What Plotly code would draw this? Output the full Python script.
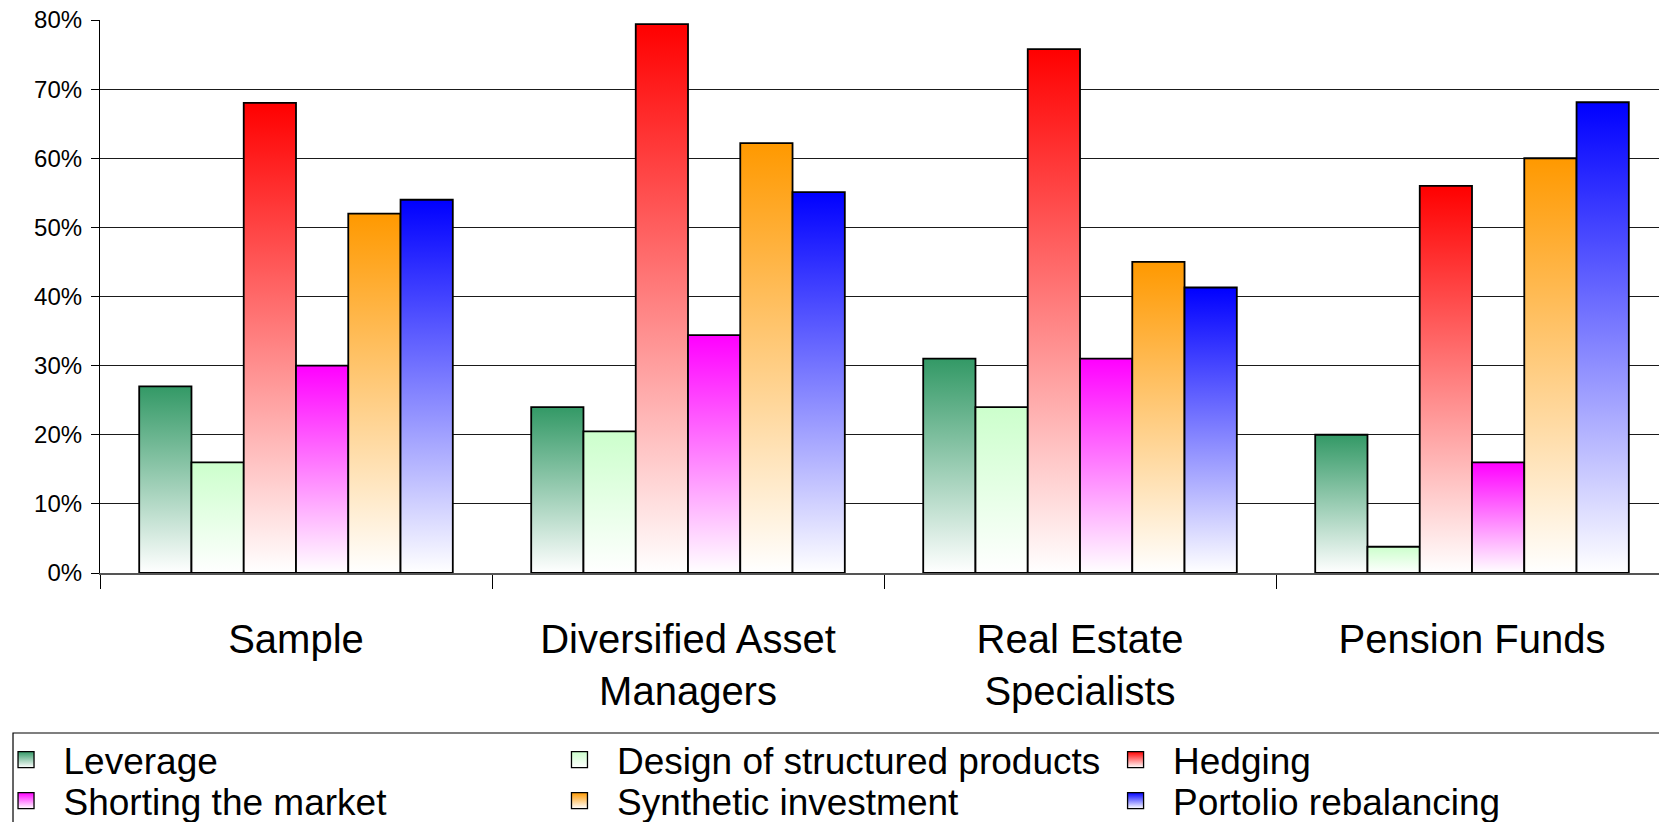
import plotly.graph_objects as go

# Survey: share of respondents using derivatives for each purpose (%)
categories = ["Sample", "Diversified Asset<br>Managers", "Real Estate<br>Specialists", "Pension Funds"]
series_names = ["Leverage", "Design of structured products", "Hedging",
                "Shorting the market", "Synthetic investment", "Portolio rebalancing"]
leverage = [27, 24, 31, 20]
structured = [16, 20.5, 24, 3.8]
hedging = [68, 79.4, 75.8, 56]
shorting = [30, 34.4, 31, 16]
synthetic = [52, 62.2, 45, 60]
rebalancing = [54, 55.1, 41.3, 68.1]
y_ticks = [0, 10, 20, 30, 40, 50, 60, 70, 80]

series_values = [leverage, structured, hedging, shorting, synthetic, rebalancing]
series_colors = ["#339966", "#CCFFCC", "#FF0000", "#FF00FF", "#FF9900", "#0000FF"]

FONT = "Liberation Sans, Arial, sans-serif"
GROUP_GAP = 0.2                      # fraction of each category left empty
n_series = len(series_values)
bar_w = (1 - GROUP_GAP) / n_series

fig = go.Figure()

# Each bar is a closed polygon on a numeric x axis, filled with a vertical
# gradient running from white at the baseline to the series colour at its top.
for s, (name, vals, col) in enumerate(zip(series_names, series_values, series_colors)):
    for c, v in enumerate(vals):
        x0 = c + GROUP_GAP / 2 + s * bar_w
        x1 = x0 + bar_w
        fig.add_trace(go.Scatter(
            x=[x0, x0, x1, x1, x0],
            y=[0, v, v, 0, 0],
            mode="lines",
            fill="toself",
            fillgradient=dict(type="vertical", start=0, stop=v,
                              colorscale=[[0, "#FFFFFF"], [1, col]]),
            line=dict(color="#000000", width=1.8),
            showlegend=False,
            name=name,
            hoverinfo="name+y",
        ))

# Legend: a 3-column x 2-row grid, one small legend box per entry
col_x = [-0.0715, 0.2835, 0.6402]
row_y = [(573 - 760) / 553, (573 - 801) / 553]
legend_common = dict(orientation="h", yref="paper", yanchor="middle", xanchor="left",
                     font=dict(family=FONT, size=37, color="#000000"),
                     bgcolor="rgba(0,0,0,0)", borderwidth=0, itemwidth=65)
legend_layout = {}
for i, (name, col) in enumerate(zip(series_names, series_colors)):
    lg = "legend" if i == 0 else f"legend{i + 1}"
    legend_layout[lg] = dict(x=col_x[i % 3], y=row_y[i // 3], **legend_common)
    fig.add_trace(go.Scatter(
        x=[None], y=[None], mode="markers", name=name, legend=lg,
        marker=dict(symbol="square", size=16, color=col,
                    gradient=dict(type="vertical", color="#FFFFFF"),
                    line=dict(color="#000000", width=1.3)),
    ))

fig.update_layout(
    width=1659, height=822,
    margin=dict(l=100, r=0, t=20, b=249, autoexpand=False),
    paper_bgcolor="#FFFFFF", plot_bgcolor="#FFFFFF",
    font=dict(family=FONT, color="#000000"),
    xaxis=dict(
        range=[0, 3.977],
        automargin=False,
        tickmode="array",
        tickvals=[c + 0.5 for c in range(len(categories))],
        ticktext=categories,
        ticks="",
        tickfont=dict(family=FONT, size=40, color="#000000"),
        ticklabelstandoff=30,
        showgrid=False, zeroline=False,
        showline=True, linecolor="#555555", linewidth=1.5,
        minor=dict(tickmode="array", tickvals=list(range(len(categories))),
                   ticks="outside", ticklen=14, tickcolor="#000000", tickwidth=1,
                   showgrid=False),
    ),
    yaxis=dict(
        range=[0, 80],
        automargin=False,
        tickmode="array", tickvals=y_ticks,
        ticktext=[f"{t}%" for t in y_ticks],
        ticks="outside", ticklen=8, tickcolor="#000000",
        tickfont=dict(family=FONT, size=24, color="#000000"),
        ticklabelstandoff=4,
        showgrid=True, gridcolor="#1a1a1a", gridwidth=1.1,
        zeroline=False,
        showline=True, linecolor="#000000", linewidth=1.2,
    ),
    shapes=[dict(type="rect", xref="paper", yref="paper",
                 x0=-0.0558, x1=1.02, y0=(573 - 733) / 553, y1=-0.5,
                 line=dict(color="#000000", width=1.2), fillcolor="rgba(0,0,0,0)",
                 layer="below")],
    **legend_layout,
)

fig.write_html("out.html")
